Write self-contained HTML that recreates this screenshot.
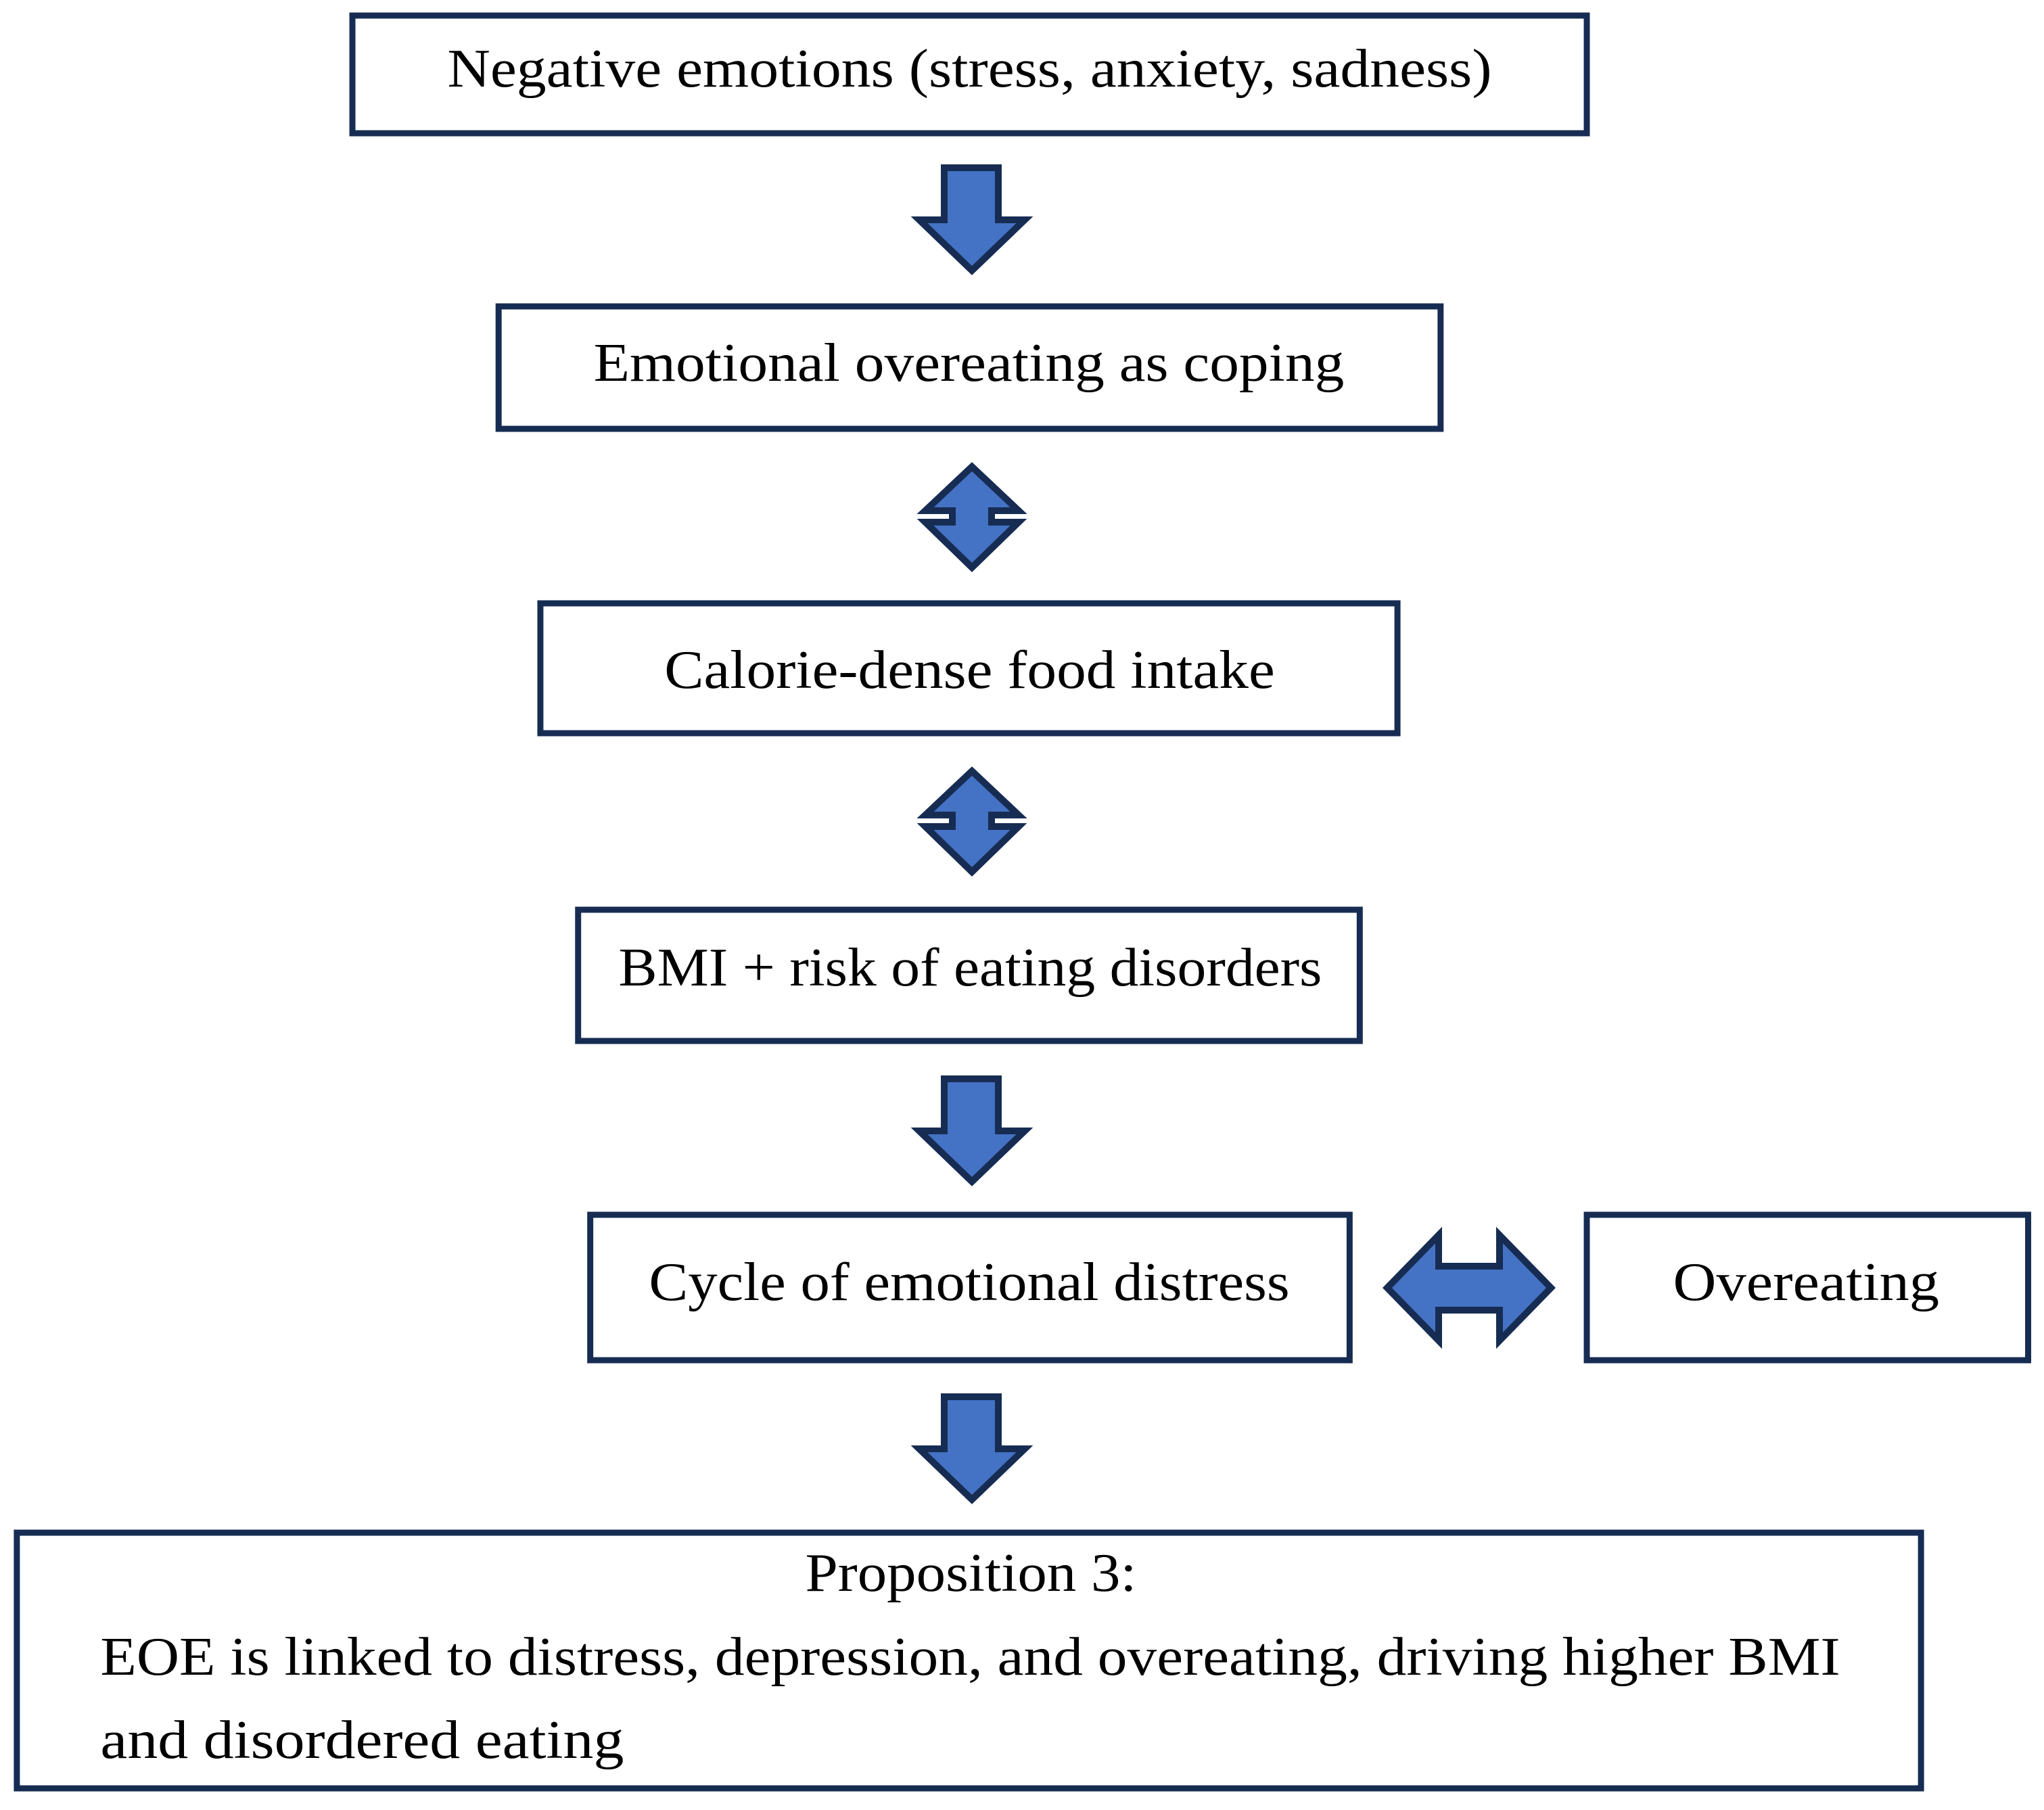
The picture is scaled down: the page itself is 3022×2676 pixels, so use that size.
<!DOCTYPE html>
<html><head><meta charset="utf-8"><style>html,body{margin:0;padding:0;background:#fff}svg{display:block}</style></head>
<body>
<svg width="3022" height="2676" viewBox="0 0 3022 2676" xmlns="http://www.w3.org/2000/svg">
<g transform="translate(-4,0) scale(0.9962,1)">
<g fill="#fff" stroke="#172c52" stroke-width="9">
<rect x="527" y="23" width="1832" height="174"/>
<rect x="744" y="453" width="1398" height="181"/>
<rect x="806" y="892" width="1272" height="192"/>
<rect x="862" y="1345" width="1160" height="194"/>
<rect x="880" y="1796" width="1127" height="215"/>
<rect x="2359" y="1796" width="655" height="215"/>
<rect x="29" y="2266" width="2826" height="378"/>
</g>
<g font-family="'Liberation Serif', serif" font-size="80" fill="#000">
<text x="668" y="128" textLength="1550" lengthAdjust="spacingAndGlyphs">Negative emotions (stress, anxiety, sadness)</text>
<text x="885" y="563" textLength="1114" lengthAdjust="spacingAndGlyphs">Emotional overeating as coping</text>
<text x="990" y="1017" textLength="906" lengthAdjust="spacingAndGlyphs">Calorie-dense food intake</text>
<text x="922" y="1457" textLength="1044" lengthAdjust="spacingAndGlyphs">BMI + risk of eating disorders</text>
<text x="967" y="1922" textLength="951" lengthAdjust="spacingAndGlyphs">Cycle of emotional distress</text>
<text x="2487" y="1922" textLength="395" lengthAdjust="spacingAndGlyphs">Overeating</text>
<text x="1199" y="2352" textLength="492" lengthAdjust="spacingAndGlyphs">Proposition 3:</text>
<text x="153" y="2476" textLength="2582" lengthAdjust="spacingAndGlyphs">EOE is linked to distress, depression, and overeating, driving higher BMI</text>
<text x="153" y="2599" textLength="777" lengthAdjust="spacingAndGlyphs">and disordered eating</text>
</g>
</g>
<g fill="#4472c4" stroke="#172c52" stroke-width="10" stroke-linejoin="miter">
<path d="M1396 248 H1476 V325 H1515 L1437 400 L1359 325 H1396 Z"/>
<path d="M1396 1595 H1476 V1672 H1515 L1437 1747 L1359 1672 H1396 Z"/>
<path d="M1396 2065 H1476 V2142 H1515 L1437 2217 L1359 2142 H1396 Z"/>
<path d="M1437 690 L1506 755 H1466 V772 H1506 L1437 839 L1368 772 H1408 V755 H1368 Z"/>
<path d="M1437 1140 L1506 1205 H1466 V1222 H1506 L1437 1289 L1368 1222 H1408 V1205 H1368 Z"/>
<path d="M2051 1904 L2127 1826 V1872 H2217 V1826 L2293 1904 L2217 1982 V1937 H2127 V1982 Z"/>
</g>
</svg>
</body></html>
